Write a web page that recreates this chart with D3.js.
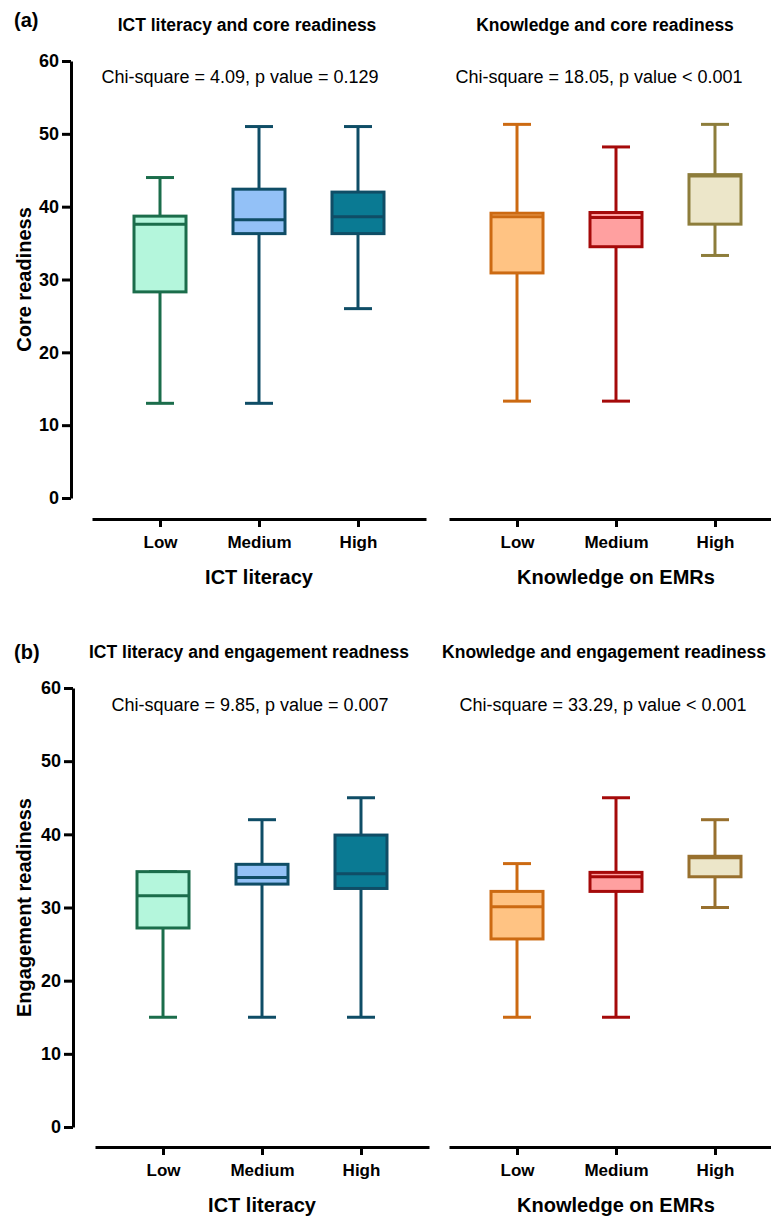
<!DOCTYPE html>
<html>
<head>
<meta charset="utf-8">
<script src="https://cdn.jsdelivr.net/npm/d3@7"></script>
<style>
  body { margin: 0; background: #fff; }
  svg { display: block; font-family: "Liberation Sans", Arial, sans-serif; }
</style>
</head>
<body>
<div id="chart"></div>
<script>
// groups + ticks
const groups = ["Low", "Medium", "High"];
const yTicks = [0, 10, 20, 30, 40, 50, 60];

// five-number summaries: [min, q1, median, q3, max]
const ictCore = [[13, 28.3, 37.6, 38.7, 44], [13, 36.3, 38.2, 42.4, 51], [26, 36.3, 38.6, 42.0, 51]];
const knowCore = [[13.3, 30.9, 38.6, 39.1, 51.3], [13.3, 34.5, 38.5, 39.2, 48.2], [33.3, 37.6, 44.2, 44.4, 51.3]];
const ictEng = [[15, 27.2, 31.6, 34.9, 34.9], [15, 33.2, 34.1, 35.9, 42], [15, 32.6, 34.6, 39.9, 45]];
const knowEng = [[15, 25.7, 30.1, 32.2, 36], [15, 32.2, 34.2, 34.8, 45], [30, 34.2, 36.8, 37.0, 42]];

const titles = ["ICT literacy and core readiness", "Knowledge and core readiness",
                "ICT literacy and engagement readness", "Knowledge and engagement readiness"];
const stats = ["Chi-square = 4.09, p value = 0.129", "Chi-square = 18.05, p value < 0.001",
               "Chi-square = 9.85, p value = 0.007", "Chi-square = 33.29, p value < 0.001"];
const xTitles = ["ICT literacy", "Knowledge on EMRs"];
const yTitles = ["Core readiness", "Engagement readiness"];
const letters = ["(a)", "(b)"];

// colours
const ictFill = ["#b4f6dc", "#93c1f7", "#0a7a93"];
const ictStroke = ["#1b6d4b", "#0f4d66", "#0f4d66"];
const knowFill = ["#ffc383", "#ffa0a0", "#ece6c9"];
const knowStrokeA = ["#cc6a12", "#a50a0a", "#8d7d3b"];
const knowStrokeB = ["#cc6a12", "#a50a0a", "#98702e"];

const W = 771, H = 1218;
const svg = d3.select("#chart").append("svg")
  .attr("width", W).attr("height", H);
svg.append("rect").attr("width", W).attr("height", H).attr("fill", "#fff");

const rows = [
  { yAxisX: 71, yRange: [498, 61], xAxisY: 519, top: 20, titleY: 25, statY: 77,
    panels: [
      { data: ictCore, range: [92, 426], fill: ictFill, stroke: ictStroke, title: titles[0], stat: stats[0], tx: 247, sx: 240 },
      { data: knowCore, range: [449, 783], fill: knowFill, stroke: knowStrokeA, title: titles[1], stat: stats[1], tx: 605, sx: 599 }
    ] },
  { yAxisX: 73, yRange: [1127, 688], xAxisY: 1147, top: 652, titleY: 652, statY: 705,
    panels: [
      { data: ictEng, range: [95, 429], fill: ictFill, stroke: ictStroke, title: titles[2], stat: stats[2], tx: 249, sx: 250 },
      { data: knowEng, range: [449, 783], fill: knowFill, stroke: knowStrokeB, title: titles[3], stat: stats[3], tx: 604, sx: 603 }
    ] }
];

const boxW = 52, capW = 14;

rows.forEach((row, ri) => {
  const y = d3.scaleLinear().domain([0, 60]).range(row.yRange);

  // panel letter
  svg.append("text")
    .attr("x", 14).attr("y", row.top).attr("dy", "0.35em")
    .attr("font-size", 20).attr("font-weight", "bold")
    .text(letters[ri]);

  // y axis
  const ya = svg.append("g")
    .attr("transform", `translate(${row.yAxisX},0)`)
    .call(d3.axisLeft(y).tickValues(yTicks).tickSize(9).tickSizeOuter(0).tickPadding(3));
  ya.select(".domain").attr("stroke-width", 3);
  ya.selectAll(".tick line").attr("stroke-width", 3);
  ya.selectAll(".tick text").attr("font-size", 18).attr("font-weight", "bold")
    .attr("font-family", "Liberation Sans, Arial, sans-serif").attr("fill", "#000");

  const midY = (row.yRange[0] + row.yRange[1]) / 2;
  svg.append("text")
    .attr("transform", `translate(24,${midY}) rotate(-90)`)
    .attr("text-anchor", "middle").attr("dy", "0.35em")
    .attr("font-size", 20).attr("font-weight", "bold")
    .text(yTitles[ri]);

  row.panels.forEach((p, pi) => {
    const x = d3.scalePoint().domain(groups).range(p.range).padding(0.687);

    const xa = svg.append("g")
      .attr("transform", `translate(0,${row.xAxisY})`)
      .call(d3.axisBottom(x).tickSize(8).tickSizeOuter(0).tickPadding(9));
    xa.select(".domain").attr("stroke-width", 3);
    xa.selectAll(".tick line").attr("stroke-width", 3);
    xa.selectAll(".tick text").attr("font-size", 17).attr("font-weight", "bold")
      .attr("font-family", "Liberation Sans, Arial, sans-serif").attr("fill", "#000");

    svg.append("text")
      .attr("x", x("Medium")).attr("y", row.xAxisY + 58).attr("dy", "0.35em")
      .attr("text-anchor", "middle").attr("font-size", 20).attr("font-weight", "bold")
      .text(xTitles[pi]);

    svg.append("text")
      .attr("x", p.tx).attr("y", row.titleY).attr("dy", "0.35em")
      .attr("text-anchor", "middle").attr("font-size", 17.5).attr("font-weight", "bold")
      .text(p.title);

    svg.append("text")
      .attr("x", p.sx).attr("y", row.statY).attr("dy", "0.35em")
      .attr("text-anchor", "middle").attr("font-size", 18)
      .text(p.stat);

    const g = svg.append("g").selectAll("g")
      .data(p.data)
      .join("g")
      .attr("stroke", (d, i) => p.stroke[i])
      .attr("stroke-width", 3);

    const X = (d, i) => x(groups[i]);

    // whiskers
    g.append("line")
      .attr("x1", X).attr("x2", X)
      .attr("y1", d => y(d[4])).attr("y2", d => y(d[3]));
    g.append("line")
      .attr("x1", X).attr("x2", X)
      .attr("y1", d => y(d[1])).attr("y2", d => y(d[0]));
    // caps
    g.append("line")
      .attr("x1", (d, i) => X(d, i) - capW).attr("x2", (d, i) => X(d, i) + capW)
      .attr("y1", d => y(d[4])).attr("y2", d => y(d[4]));
    g.append("line")
      .attr("x1", (d, i) => X(d, i) - capW).attr("x2", (d, i) => X(d, i) + capW)
      .attr("y1", d => y(d[0])).attr("y2", d => y(d[0]));
    // box
    g.append("rect")
      .attr("x", (d, i) => X(d, i) - boxW / 2)
      .attr("width", boxW)
      .attr("y", d => y(d[3]))
      .attr("height", d => y(d[1]) - y(d[3]))
      .attr("fill", (d, i) => p.fill[i]);
    // median
    g.append("line")
      .attr("x1", (d, i) => X(d, i) - boxW / 2).attr("x2", (d, i) => X(d, i) + boxW / 2)
      .attr("y1", d => y(d[2])).attr("y2", d => y(d[2]));
  });
});
</script>
</body>
</html>
